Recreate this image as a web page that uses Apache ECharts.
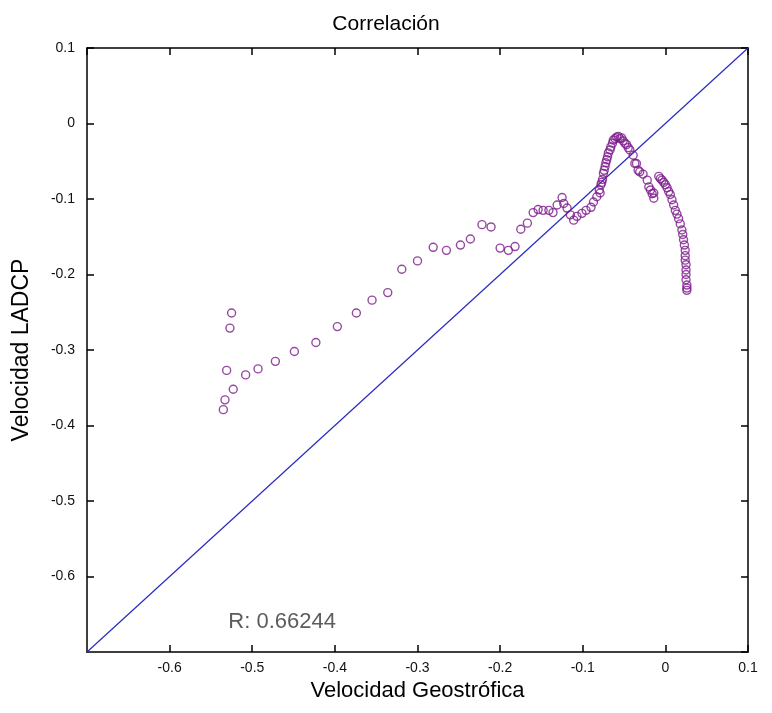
<!DOCTYPE html>
<html>
<head>
<meta charset="utf-8">
<script src="https://cdn.jsdelivr.net/npm/echarts@6/dist/echarts.min.js"></script>
<style>html,body{margin:0;padding:0;background:#fff}#c{width:772px;height:713px}</style>
</head>
<body>
<div id="c"></div>
<script>
var xTicksMin = -0.7, xTicksMax = 0.1, tickStep = 0.1;
var yTicksMin = -0.7, yTicksMax = 0.1;
var refLineX = [-0.7, 0.1];
var refLineY = [-0.7, 0.1];
var rLabel = "R: 0.66244";
var rPos = [-0.529, -0.660];

var geoX = [
-0.525,-0.527,-0.531,-0.523,-0.533,-0.535,-0.508,-0.493,-0.472,-0.449,-0.423,-0.397,-0.374,-0.355,-0.336,-0.319,-0.300,-0.281,-0.265,-0.248,
-0.236,-0.222,-0.211,-0.200,-0.190,-0.182,-0.175,-0.167,-0.160,-0.154,-0.148,-0.141,-0.136,-0.131,-0.125,-0.123,-0.119,-0.115,-0.111,-0.107,
-0.101,-0.096,-0.090,-0.087,-0.083,-0.080,-0.078,-0.076,-0.075,-0.073,-0.071,-0.069,-0.066,-0.063,-0.059,-0.055,-0.051,-0.047,-0.043,-0.039,
-0.035,-0.033,-0.079,-0.077,-0.074,-0.072,-0.070,-0.067,-0.064,-0.061,-0.057,-0.053,-0.049,-0.045,-0.037,-0.031,-0.027,-0.022,-0.020,-0.018,
-0.016,-0.014,-0.014,-0.008,-0.006,-0.004,-0.002,0.000,0.002,0.004,0.006,0.008,0.010,0.012,0.014,0.016,0.018,0.020,0.021,0.022,
0.023,0.024,0.024,0.024,0.025,0.025,0.025,0.025,0.026,0.026,0.026
];
var ladcpY = [
-0.251,-0.271,-0.327,-0.352,-0.366,-0.379,-0.333,-0.325,-0.315,-0.302,-0.290,-0.269,-0.251,-0.234,-0.224,-0.193,-0.182,-0.164,-0.168,-0.161,
-0.153,-0.134,-0.137,-0.165,-0.168,-0.163,-0.140,-0.132,-0.118,-0.114,-0.115,-0.115,-0.118,-0.108,-0.098,-0.106,-0.112,-0.121,-0.128,-0.123,
-0.119,-0.115,-0.111,-0.104,-0.097,-0.088,-0.081,-0.074,-0.066,-0.057,-0.048,-0.039,-0.031,-0.022,-0.018,-0.020,-0.023,-0.028,-0.035,-0.042,
-0.053,-0.062,-0.092,-0.078,-0.062,-0.052,-0.044,-0.035,-0.026,-0.020,-0.017,-0.019,-0.026,-0.032,-0.053,-0.064,-0.067,-0.075,-0.084,-0.088,
-0.093,-0.099,-0.092,-0.070,-0.073,-0.075,-0.078,-0.081,-0.085,-0.090,-0.094,-0.101,-0.108,-0.115,-0.120,-0.126,-0.133,-0.141,-0.147,-0.154,
-0.161,-0.168,-0.175,-0.181,-0.187,-0.194,-0.200,-0.207,-0.214,-0.221,-0.218
];

var pts = geoX.map(function(v,i){return [v, ladcpY[i]];});
var linePts = refLineX.map(function(v,i){return [v, refLineY[i]];});

var tickFont = {fontFamily:'"Liberation Sans Narrow","Liberation Sans",Arial,sans-serif', fontSize:14, color:'#111'};
function fmt(v){ return Math.abs(v) < 1e-9 ? '0' : (+v.toFixed(1)).toString(); }

var chart = echarts.init(document.getElementById('c'), null, {renderer:'canvas'});
chart.setOption({
  animation:false,
  backgroundColor:'#fff',
  title:{text:'Correlación', left:'center', top:9,
    textStyle:{fontFamily:'"Liberation Sans",Arial,sans-serif', fontSize:21, fontWeight:'normal', color:'#000'}},
  grid:{left:87, right:24, top:48, bottom:61, containLabel:false},
  xAxis:[{
    type:'value', min:xTicksMin, max:xTicksMax, interval:tickStep, position:'bottom',
    name:'Velocidad Geostrófica', nameLocation:'middle', nameGap:28,
    nameTextStyle:{fontFamily:'"Liberation Sans",Arial,sans-serif', fontSize:22, color:'#000'},
    axisLine:{show:true, onZero:false, lineStyle:{color:'#000', width:1.5}},
    axisTick:{show:true, inside:true, length:7, lineStyle:{color:'#000', width:1.5}},
    axisLabel:Object.assign({showMinLabel:false, margin:9, formatter:fmt}, tickFont),
    splitLine:{show:false}
  },{
    type:'value', min:xTicksMin, max:xTicksMax, interval:tickStep, position:'top',
    axisLine:{show:true, onZero:false, lineStyle:{color:'#000', width:1.5}},
    axisTick:{show:true, inside:true, length:7, lineStyle:{color:'#000', width:1.5}},
    axisLabel:{show:false}, splitLine:{show:false}
  }],
  yAxis:[{
    type:'value', min:yTicksMin, max:yTicksMax, interval:tickStep, position:'left',
    name:'Velocidad LADCP', nameLocation:'middle', nameGap:54, nameRotate:90,
    nameTextStyle:{fontFamily:'"Liberation Sans",Arial,sans-serif', fontSize:23, color:'#000'},
    axisLine:{show:true, onZero:false, lineStyle:{color:'#000', width:1.5}},
    axisTick:{show:true, inside:true, length:7, lineStyle:{color:'#000', width:1.5}},
    axisLabel:Object.assign({showMinLabel:false, margin:12, formatter:fmt}, tickFont),
    splitLine:{show:false}
  },{
    type:'value', min:yTicksMin, max:yTicksMax, interval:tickStep, position:'right',
    axisLine:{show:true, onZero:false, lineStyle:{color:'#000', width:1.5}},
    axisTick:{show:true, inside:true, length:7, lineStyle:{color:'#000', width:1.5}},
    axisLabel:{show:false}, splitLine:{show:false}
  }],
  series:[{
    type:'line', data:linePts, symbol:'none', silent:true,
    lineStyle:{color:'#2a2ac0', width:1.2}, z:2
  },{
    type:'scatter', data:pts, symbol:'circle', symbolSize:8,
    itemStyle:{color:'rgba(0,0,0,0)', borderColor:'#7a1a8a', borderWidth:1.4}, z:3
  },{
    type:'scatter', data:[rPos], symbolSize:0, silent:true,
    label:{show:true, position:'right', distance:0, formatter:rLabel,
      fontFamily:'"Liberation Sans",Arial,sans-serif', fontSize:22, color:'#333'}
  }]
});
</script>
</body>
</html>
